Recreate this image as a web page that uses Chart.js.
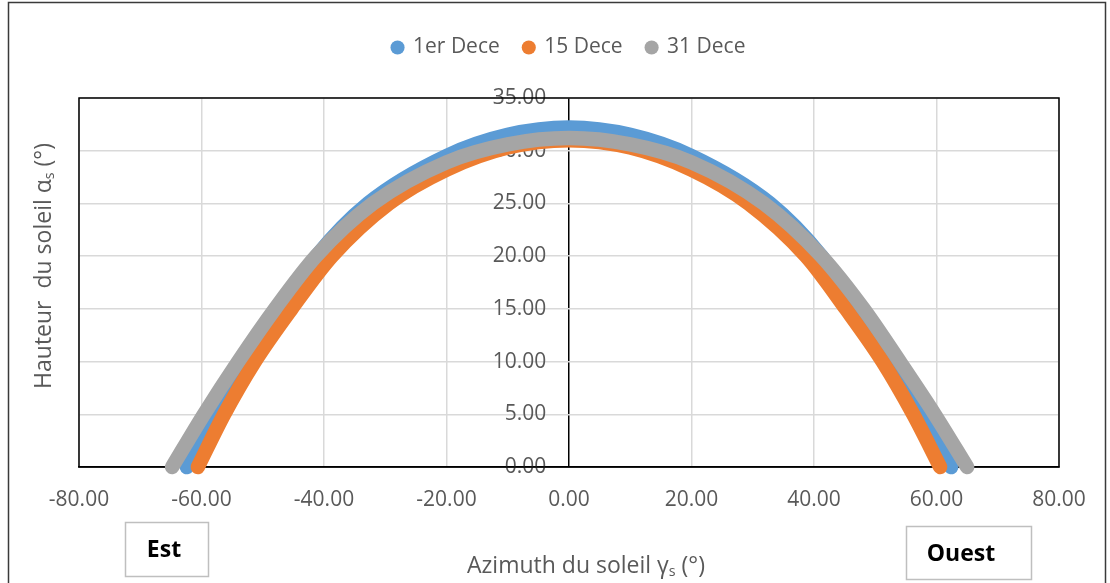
<!DOCTYPE html>
<html>
<head>
<meta charset="utf-8">
<script src="https://cdn.jsdelivr.net/npm/chart.js@4.4.1/dist/chart.umd.min.js"></script>
<style>
  html, body { margin: 0; padding: 0; background: #fff; }
  #chart_sun { display: block; }
</style>
</head>
<body>
<canvas id="chart_sun" width="1110" height="583"></canvas>
<script>
// Trajectoire du soleil : hauteur vs azimuth
const series_names = ['1er Dece', '15 Dece', '31 Dece'];
const series_colors = ['#5B9BD5', '#ED7D31', '#A5A5A5'];

const az_1er = [-62.4, -57.8, -52.7, -47.0, -41.2, -32.8, -20, -10, 0, 10, 20, 32.8, 41.2, 47.1, 52.7, 57.8, 62.4];
const alt_1er = [0, 5, 10, 15, 20, 25, 29.5, 31.5, 32.2, 31.5, 29.5, 25, 20, 15, 10, 5, 0];

const az_15 = [-60.6, -56.3, -51.3, -45.3, -38.7, -29.4, -20, -10, 0, 10, 20, 29.3, 38.7, 45.2, 51.2, 56.2, 60.6];
const alt_15 = [0, 5, 10, 15, 20, 25, 28.2, 30.3, 31.0, 30.3, 28.2, 25, 20, 15, 10, 5, 0];

const az_31 = [-64.8, -59.6, -54.0, -48.0, -41.3, -32.0, -20, -10, 0, 10, 20, 31.8, 41.2, 48.1, 54.0, 59.7, 65.0];
const alt_31 = [0, 5, 10, 15, 20, 25, 28.9, 30.6, 31.2, 30.6, 28.9, 25, 20, 15, 10, 5, 0];

// axes
const x_min = -80, x_max = 80, x_step = 20;
const y_min = 0, y_max = 35, y_step = 5;

const text_color = '#595959';
const grid_color = '#D9D9D9';
Chart.defaults.font.family = 'Open Sans';

const to_points = (xs, ys) => xs.map((x, i) => ({x: x, y: ys[i]}));

const make_dataset = (idx, xs, ys, draw_order) => ({
    label: series_names[idx],
    data: to_points(xs, ys),
    showLine: true,
    borderColor: series_colors[idx],
    backgroundColor: series_colors[idx],
    pointBackgroundColor: series_colors[idx],
    pointBorderWidth: 0,
    pointRadius: 0,
    pointHoverRadius: 0,
    borderWidth: 14.5,
    borderCapStyle: 'round',
    borderJoinStyle: 'round',
    cubicInterpolationMode: 'monotone',
    clip: false,
    order: draw_order
});

// texte avec indice (alpha_s, gamma_s)
function draw_sub_text(ctx, parts, cx, cy, size) {
    let total = 0;
    parts.forEach(p => {
        ctx.font = (p[1] ? size * 0.62 : size) + 'px "Open Sans"';
        total += ctx.measureText(p[0]).width;
    });
    let x = cx - total / 2;
    parts.forEach(p => {
        ctx.font = (p[1] ? size * 0.62 : size) + 'px "Open Sans"';
        ctx.fillText(p[0], x, p[1] ? cy + size * 0.28 : cy);
        x += ctx.measureText(p[0]).width;
    });
}

const decor_plugin = {
    id: 'decor',
    beforeDatasetsDraw(chart) {
        const {ctx, chartArea: a} = chart;
        ctx.save();
        ctx.strokeStyle = '#000';
        ctx.lineWidth = 1.5;
        ctx.strokeRect(a.left, a.top, a.right - a.left, a.bottom - a.top);
        ctx.restore();
    },
    afterDraw(chart) {
        const ctx = chart.ctx;
        ctx.save();
        // cadre du graphique
        ctx.strokeStyle = '#3a3a3a';
        ctx.lineWidth = 1.5;
        ctx.strokeRect(8.5, 2.5, 1097, 700);

        ctx.fillStyle = text_color;
        ctx.textBaseline = 'middle';
        ctx.textAlign = 'left';
        // titre axe x
        draw_sub_text(ctx, [['Azimuth du soleil \u03B3', false], ['s', true], [' (\u00B0)', false]], 586, 566, 23);
        // titre axe y
        ctx.save();
        ctx.translate(44, 266);
        ctx.rotate(-Math.PI / 2);
        draw_sub_text(ctx, [['Hauteur  du soleil \u03B1', false], ['s', true], [' (\u00B0)', false]], 0, 0, 23);
        ctx.restore();

        // boites Est / Ouest
        ctx.strokeStyle = '#BFBFBF';
        ctx.lineWidth = 1.5;
        ctx.strokeRect(125.5, 522.5, 83, 54);
        ctx.strokeRect(906.5, 526.5, 125, 53);
        ctx.fillStyle = '#000';
        ctx.textAlign = 'center';
        ctx.font = 'bold 23px "Open Sans"';
        ctx.fillText('Est', 164, 550);
        ctx.fillText('Ouest', 961, 554);
        ctx.restore();
    }
};

let chart_canvas = document.getElementById('chart_sun');

let sun_chart = new Chart(chart_canvas, {
    type: 'scatter',
    data: {
        datasets: [
            make_dataset(0, az_1er, alt_1er, 2),
            make_dataset(1, az_15, alt_15, 1),
            make_dataset(2, az_31, alt_31, 0)
        ]
    },
    options: {
        responsive: false,
        animation: false,
        events: [],
        layout: {padding: {left: 79, right: 51, top: 13, bottom: 0}},
        plugins: {
            legend: {
                position: 'top',
                labels: {
                    usePointStyle: true,
                    pointStyle: 'circle',
                    boxWidth: 10,
                    boxHeight: 10,
                    padding: 24,
                    color: text_color,
                    font: {family: 'Open Sans', size: 21},
                    sort: (a, b) => a.datasetIndex - b.datasetIndex
                }
            },
            tooltip: {enabled: false}
        },
        scales: {
            x: {
                type: 'linear',
                position: 'bottom',
                min: x_min,
                max: x_max,
                ticks: {
                    stepSize: x_step,
                    padding: 20,
                    color: text_color,
                    font: {size: 21},
                    maxRotation: 0,
                    callback: v => v.toFixed(2)
                },
                // la ligne verticale noire en 0 sert d'axe des hauteurs
                grid: {
                    color: c => (c.tick && c.tick.value === 0 ? '#000' : grid_color),
                    lineWidth: 1.5,
                    drawTicks: false
                },
                border: {display: true, color: '#000', width: 1.5},
                afterFit: s => { s.height = 116; }
            },
            xTop: {
                type: 'linear',
                position: 'top',
                display: true,
                min: 0,
                max: 1,
                ticks: {display: false},
                grid: {display: false},
                border: {display: false},
                afterFit: s => {
                    const lg = s.chart.legend;
                    const lh = lg && lg.height ? lg.height : 69;
                    s.height = Math.max(0, 98 - 13 - lh);
                }
            },
            y: {
                type: 'linear',
                // étiquettes placées à gauche de l'axe x = 0
                position: {x: -3.7},
                min: y_min,
                max: y_max,
                ticks: {
                    stepSize: y_step,
                    color: text_color,
                    font: {size: 21},
                    callback: v => v.toFixed(2)
                },
                grid: {color: grid_color, lineWidth: 1.5, drawTicks: false},
                border: {display: false}
            }
        }
    },
    plugins: [decor_plugin]
});
</script>
</body>
</html>
